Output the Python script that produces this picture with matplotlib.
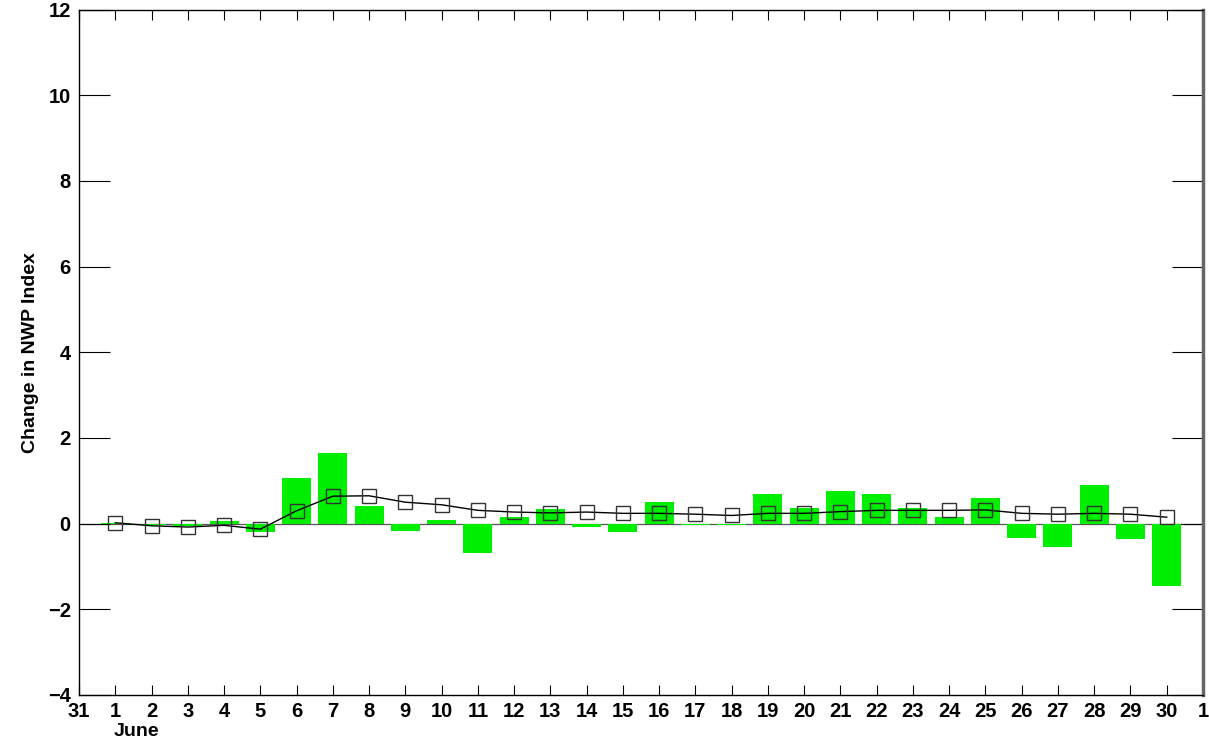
import numpy as np
import matplotlib.pyplot as plt

plt.rcParams['font.family'] = ['Liberation Sans', 'DejaVu Sans']
plt.rcParams['font.weight'] = 'bold'

# Daily change in NWP index for June, with running mean
days = np.arange(1, 31)
change = [0.02, -0.04, -0.06, 0.05, -0.20, 1.07, 1.64, 0.40, -0.17, 0.09,
          -0.68, 0.15, 0.35, -0.07, -0.20, 0.51, -0.03, -0.04, 0.68, 0.37,
          0.77, 0.68, 0.37, 0.15, 0.60, -0.34, -0.54, 0.91, -0.35, -1.46]
mean_change = [0.02, -0.05, -0.08, -0.04, -0.13, 0.30, 0.64, 0.65, 0.50, 0.44,
               0.31, 0.27, 0.25, 0.27, 0.24, 0.24, 0.22, 0.19, 0.24, 0.24,
               0.28, 0.31, 0.31, 0.31, 0.32, 0.24, 0.22, 0.24, 0.22, 0.15]

xtick_pos = np.arange(0, 32)
xtick_labels = ['31'] + [str(d) for d in days] + ['1']
ytick_pos = np.arange(-4, 13, 2)

fig = plt.figure(figsize=(12.09, 7.42), dpi=100)
ax = fig.add_axes([79 / 1209, 1 - 695 / 742, (1203 - 79) / 1209, (695 - 9.5) / 742])

ax.axhline(0, color='#555555', lw=0.9, zorder=1)
ax.bar(days, change, width=0.8, color='#00ee00', zorder=2)
ax.plot(days, mean_change, color='black', lw=1.0, marker='s', ms=10,
        mfc='none', mec='#333333', mew=1.0, zorder=3)

ax.set_xlim(0, 31)
ax.set_ylim(-4, 12)
ax.set_xticks(xtick_pos)
ax.set_xticklabels(xtick_labels)
ax.set_yticks(ytick_pos)
ax.tick_params(axis='x', direction='in', length=7, top=True, labelsize=14.5, pad=5)
ax.tick_params(axis='y', direction='in', length=22, right=True, labelsize=14.5, pad=6)
ax.set_ylabel('Change in NWP Index', fontsize=14, fontweight='bold', labelpad=6)

for s in ax.spines.values():
    s.set_linewidth(1.0)
ax.spines['right'].set_linewidth(2.5)
ax.spines['right'].set_color('#666666')

ax.text(0.97, -0.053, 'June', transform=ax.get_xaxis_transform(), ha='left',
        va='center', fontsize=14, fontweight='bold')

fig.savefig('out.png', dpi=100)
